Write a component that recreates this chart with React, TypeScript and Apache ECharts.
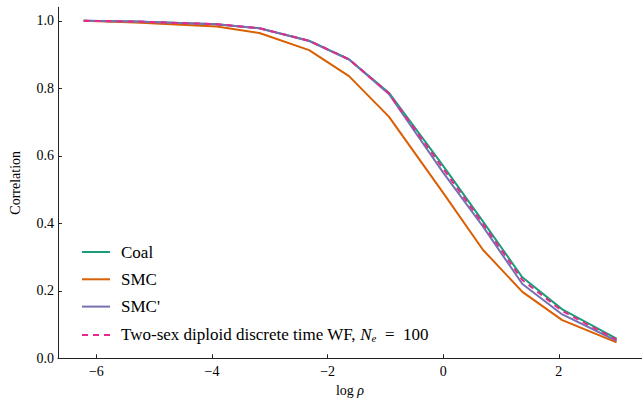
import React, { useEffect, useRef } from "react";
import * as echarts from "echarts";

const logRho = [-6.22, -5.33, -3.92, -3.18, -2.32, -1.63, -0.94, 0, 0.69, 1.37, 2.06, 3.0];
const coal = [1.0, 0.998, 0.99, 0.978, 0.941, 0.886, 0.787, 0.57, 0.405, 0.24, 0.145, 0.058];
const smc = [1.0, 0.995, 0.983, 0.964, 0.913, 0.836, 0.716, 0.49, 0.321, 0.197, 0.113, 0.047];
const smcPrime = [1.0, 0.998, 0.99, 0.978, 0.94, 0.885, 0.783, 0.55, 0.39, 0.22, 0.13, 0.052];
const wf = [1.0, 0.998, 0.99, 0.978, 0.941, 0.886, 0.785, 0.562, 0.398, 0.232, 0.14, 0.055];

const xTicks = [-6, -4, -2, 0, 2];
const yTicks = [0, 0.2, 0.4, 0.6, 0.8, 1.0];

const seriesNames = ["Coal", "SMC", "SMC'", "WF"];
const colors = ["#1b9e77", "#d95f02", "#7570b3", "#e7298a"];

const FONT = "'Liberation Serif', 'DejaVu Serif', serif";

export default function App() {
  const ref = useRef<HTMLDivElement>(null);
  useEffect(() => {
    if (!ref.current) return;
    const chart = echarts.init(ref.current, undefined, { renderer: "svg" });
    const values = [coal, smc, smcPrime, wf];
    chart.setOption({
      animation: false,
      backgroundColor: "#ffffff",
      grid: { left: 57.3, top: 7.3, width: 587.7, height: 351, containLabel: false },
      legend: {
        orient: "vertical",
        left: 76,
        top: 238.5,
        itemWidth: 28,
        itemHeight: 14,
        itemGap: 10.3,
        itemStyle: { opacity: 0 },
        data: seriesNames,
        textStyle: {
          fontFamily: FONT,
          fontSize: 17,
          lineHeight: 17,
          color: "#000",
          padding: [0, 0, 0, 6],
          rich: {
            t: { fontFamily: FONT, fontSize: 17, lineHeight: 17, color: "#000" },
            i: { fontFamily: FONT, fontSize: 17, lineHeight: 17, fontStyle: "italic", color: "#000" },
            s: { fontFamily: FONT, fontSize: 11, lineHeight: 17, fontStyle: "italic", color: "#000", verticalAlign: "bottom", padding: [7, 0, 0, 0] },
          },
        },
        formatter: (name: string) =>
          name === "WF"
            ? "{t|Two-sex diploid discrete time WF, }{i|N}{s|e}{t|\u2002=\u2002100}"
            : name,
      },
      xAxis: {
        type: "value",
        min: -6.665,
        max: 3.44,
        name: "{a|log }{b|ρ}",
        nameLocation: "middle",
        nameGap: 23,
        nameTextStyle: {
          verticalAlign: "top",
          rich: {
            a: { fontFamily: FONT, fontSize: 14, color: "#000" },
            b: { fontFamily: FONT, fontSize: 14, fontStyle: "italic", color: "#000" },
          },
        },
        axisLine: { show: true, onZero: false, lineStyle: { color: "#222", width: 1 } },
        axisTick: { show: true, inside: true, length: 4, customValues: xTicks, lineStyle: { color: "#222" } },
        axisLabel: {
          customValues: xTicks,
          fontFamily: FONT,
          fontSize: 14,
          color: "#000",
          margin: 6,
          formatter: (v: number) => (v < 0 ? "\u2212" + Math.abs(v) : String(v)),
        },
        splitLine: { show: false },
      },
      yAxis: {
        type: "value",
        min: 0,
        max: 1.04,
        name: "Correlation",
        nameLocation: "middle",
        nameRotate: 90,
        nameGap: 36,
        nameTextStyle: { fontFamily: FONT, fontSize: 14, color: "#000" },
        axisLine: { show: true, onZero: false, lineStyle: { color: "#222", width: 1 } },
        axisTick: { show: true, inside: true, length: 4, customValues: yTicks, lineStyle: { color: "#222" } },
        axisLabel: {
          customValues: yTicks,
          fontFamily: FONT,
          fontSize: 14,
          color: "#000",
          margin: 4,
          formatter: (v: number) => v.toFixed(1),
        },
        splitLine: { show: false },
      },
      series: seriesNames.map((name, k) => ({
        name,
        type: "line",
        data: logRho.map((x, i) => [x, values[k][i]]),
        showSymbol: false,
        symbol: "none",
        color: colors[k],
        lineStyle: {
          color: colors[k],
          width: 2,
          type: k === 3 ? [6, 5] : "solid",
        },
        z: 2 + k,
      })),
    });
    return () => chart.dispose();
  }, []);
  return (
    <div
      ref={ref}
      style={{ position: "fixed", left: 0, top: 0, width: 642, height: 403, background: "#fff" }}
    />
  );
}
